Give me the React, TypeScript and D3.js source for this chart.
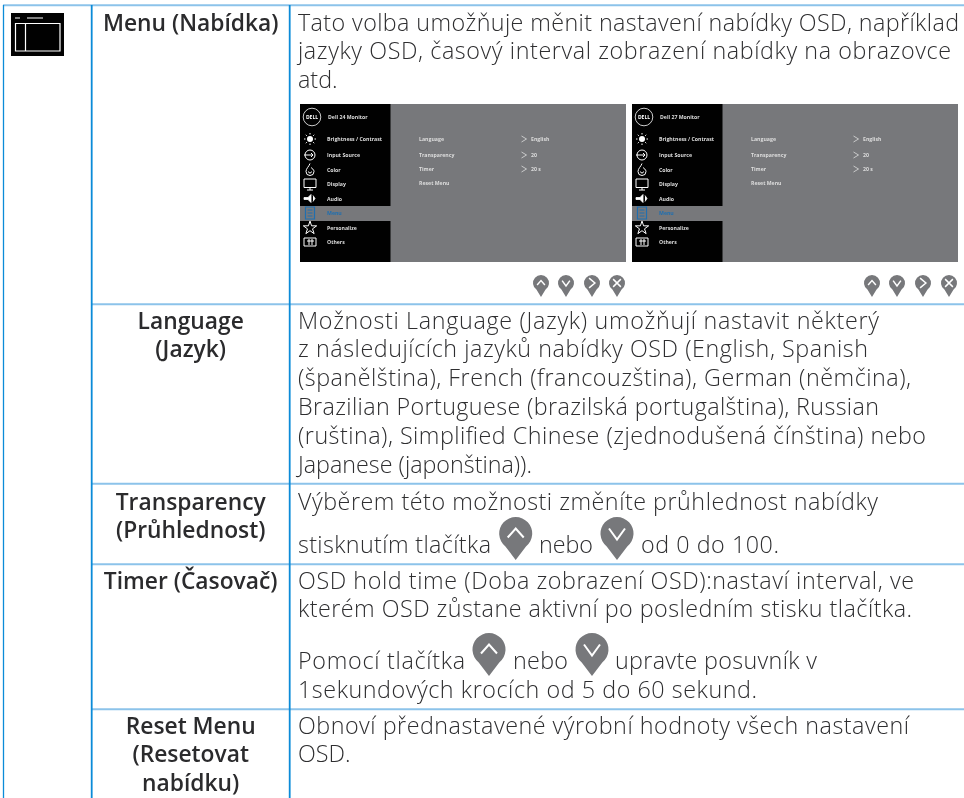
import React from "react";
import * as d3 from "d3";

const WIDTH = 964;
const HEIGHT = 798;
const BODY_FONT = "'Open Sans', sans-serif";
const BLUE = "#0b8bd8";
const LIGHT_BLUE = "#8cc3ea";
const PIN_GREY = "#77787b";

// table contents
const rowNames = ["menu", "language", "transparency", "timer", "reset"];
const labelLines = [
  ["Menu (Nabídka)"],
  ["Language", "(Jazyk)"],
  ["Transparency", "(Průhlednost)"],
  ["Timer (Časovač)"],
  ["Reset Menu", "(Resetovat", "nabídku)"],
];
const bodyLines = [
  [
    "Tato volba umožňuje měnit nastavení nabídky OSD, například",
    "jazyky OSD, časový interval zobrazení nabídky na obrazovce",
    "atd.",
  ],
  [
    "Možnosti Language (Jazyk) umožňují nastavit některý",
    "z následujících jazyků nabídky OSD (English, Spanish",
    "(španělština), French (francouzština), German (němčina),",
    "Brazilian Portuguese (brazilská portugalština), Russian",
    "(ruština), Simplified Chinese (zjednodušená čínština) nebo",
    "Japanese (japonština)).",
  ],
  ["Výběrem této možnosti změníte průhlednost nabídky"],
  [
    "OSD hold time (Doba zobrazení OSD):nastaví interval, ve",
    "kterém OSD zůstane aktivní po posledním stisku tlačítka.",
  ],
  ["Obnoví přednastavené výrobní hodnoty všech nastavení", "OSD."],
];
const transparencyParts = ["stisknutím tlačítka", "nebo", "od 0 do 100."];
const timerParts = ["Pomocí tlačítka", "nebo", "upravte posuvník v"];
const timerLastLine = "1sekundových krocích od 5 do 60 sekund.";

// OSD screenshots
const monitors = ["Dell 24 Monitor", "Dell 27 Monitor"];
const osdItems = [
  "Brightness / Contrast",
  "Input Source",
  "Color",
  "Display",
  "Audio",
  "Menu",
  "Personalize",
  "Others",
];
const osdSettings = ["Language", "Transparency", "Timer", "Reset Menu"];
const osdValues = ["English", "20", "20 s"];
const pinKinds = ["up", "down", "right", "close"];

// layout
const TEXT_X = 298;
const LABEL_X = 190.7;
const LINE = 28.8;
const rowTop = d3.scaleOrdinal<string, number>().domain(rowNames).range([5.3, 304.3, 483.7, 564.3, 709.3]);
const firstBaseline = d3.scaleOrdinal<string, number>().domain(rowNames).range([30.6, 328.6, 509.6, 588.6, 733.6]);
const osdY = d3.scaleLinear().domain([0, 1, 7]).range([139, 155, 242]);
const settingY = d3.scaleLinear().domain([0, 1, 3]).range([139, 155, 183]);
// right ends of the long body lines, the font here runs a little narrower than the original
const bodyLineEnds = [
  [959, 951, 0],
  [879, 868, 911, 879, 926, 0],
  [878],
  [914, 912],
  [909, 0],
];

function pinPath(w: number, h: number) {
  const r = w / 2;
  const a = Math.acos(r / (h - r));
  const p = d3.path();
  p.moveTo(0, h);
  p.arc(0, r, r, Math.PI - a, 2 * Math.PI + a, false);
  p.closePath();
  return p.toString();
}

function Pin({ x, y, w, h, kind }: { x: number; y: number; w: number; h: number; kind: string }) {
  const s = w / 33;
  const marks: Record<string, string> = {
    up: "M-8,4L0,-5L8,4",
    down: "M-8,-5L0,6L8,-5",
    right: "M-6,-10L6,0L-6,10",
    close: "M-8,-8L8,8M8,-8L-8,8",
  };
  return (
    <g transform={`translate(${x},${y})`}>
      <path d={pinPath(w, h)} fill={PIN_GREY} />
      <g transform={`translate(0,${w / 2}) scale(${s})`}>
        <path d={marks[kind]} fill="none" stroke="#fff" strokeWidth={s < 1 ? 3 : 2} />
      </g>
    </g>
  );
}

function OsdIcon({ i, cx, cy, on }: { i: number; cx: number; cy: number; on: boolean }) {
  const stroke = on ? "#1f6fb0" : "#fff";
  const common = { fill: "none", stroke, strokeWidth: 1 };
  let shape: React.ReactNode = null;
  if (i === 0) {
    const rays = d3.range(8).map((k) => (k * Math.PI) / 4);
    shape = (
      <>
        <circle r={3} fill="#fff" />
        {rays.map((a, k) => (
          <line key={k} x1={4.5 * Math.cos(a)} y1={4.5 * Math.sin(a)} x2={6 * Math.cos(a)} y2={6 * Math.sin(a)} {...common} />
        ))}
      </>
    );
  } else if (i === 1) {
    shape = (
      <>
        <circle r={5} {...common} />
        <path d="M-6,0H3M1,-2L3,0L1,2" {...common} />
      </>
    );
  } else if (i === 2) {
    shape = <path d="M0,-6C-1,-3 -4,-1 -4,2A4,4 0 0 0 4,2C4,0 2,-1 1,-2M-1.5,2A1.5,1.5 0 0 0 1.5,2" {...common} />;
  } else if (i === 3) {
    shape = <path d="M-6,-5H6V3.5H-6ZM0,3.5V6M-3,6H3" {...common} />;
  } else if (i === 4) {
    shape = <path d="M-6,-1H-2L1,-4V4L-2,1H-6ZM3,-3L5,0L3,3" fill="#fff" stroke="#fff" strokeWidth={0.8} />;
  } else if (i === 5) {
    shape = <path d="M-4.5,-6H4.5V6H-4.5ZM-2.5,-3H2.5M-2.5,0H2.5M-2.5,3H2.5" {...common} strokeWidth={1.2} />;
  } else if (i === 6) {
    shape = <path d={d3.symbol(d3.symbolStar, 55)() as string} transform="translate(0,0.5)" {...common} />;
  } else {
    shape = <path d="M-6,-4H6V4H-6ZM-1,-3V3M2,-3V3M-3,-1H4" {...common} />;
  }
  return <g transform={`translate(${cx},${cy})`}>{shape}</g>;
}

function OsdPanel({ x, name, pins }: { x: number; name: string; pins: number[] }) {
  const font = { fontFamily: BODY_FONT, fontSize: 5.2, fontWeight: 700 };
  return (
    <g>
      <g style={{ filter: "blur(0.25px)" }}>
        <rect x={x} y={104} width={326} height={158} fill={PIN_GREY} />
        <rect x={x} y={104} width={90.5} height={102} fill="#000" />
        <rect x={x} y={221} width={90.5} height={41} fill="#000" />
        <circle cx={x + 12} cy={117} r={8.8} fill="#000" stroke="#fff" strokeWidth={0.8} />
        <text x={x + 12} y={119} textAnchor="middle" fill="#fff" fontFamily={BODY_FONT} fontSize={5} fontWeight={700}>
          DELL
        </text>
        <text x={x + 28} y={119} fill="#ddd" {...font}>
          {name}
        </text>
        {osdItems.map((item, i) => (
          <g key={item}>
            <OsdIcon i={i} cx={x + 10} cy={osdY(i)} on={item === "Menu"} />
            <text x={x + 27} y={osdY(i) + 2} fill={item === "Menu" ? "#1f6fb0" : "#ddd"} {...font}>
              {item}
            </text>
          </g>
        ))}
        {osdSettings.map((item, i) => (
          <text key={item} x={x + 119} y={settingY(i) + 2} fill="#ddd" {...font}>
            {item}
          </text>
        ))}
        {osdValues.map((item, i) => (
          <g key={item}>
            <path
              d={`M${x + 221.5},${settingY(i) - 3}L${x + 226.5},${settingY(i)}L${x + 221.5},${settingY(i) + 3}`}
              fill="none"
              stroke="#ddd"
              strokeWidth={0.8}
            />
            <text x={x + 231} y={settingY(i) + 2} fill="#ddd" {...font}>
              {item}
            </text>
          </g>
        ))}
      </g>
      {pinKinds.map((kind, i) => (
        <Pin key={kind} x={pins[i]} y={275} w={16} h={22} kind={kind} />
      ))}
    </g>
  );
}

export default function App() {
  const bodyStyle = { fontFamily: BODY_FONT, fontSize: 23.3, fontWeight: 300, fill: "#2e2e30" };
  const labelStyle = {
    fontFamily: BODY_FONT,
    fontSize: 22.8,
    fontWeight: 600,
    fill: "#2b2b2d",
    textAnchor: "middle" as const,
  };
  const fit = (end: number, start: number = TEXT_X) => ({ textLength: end - start, lengthAdjust: "spacing" });
  return (
    <svg width={WIDTH} height={HEIGHT} style={{ position: "absolute", left: 0, top: 0 }}>
      <rect width={WIDTH} height={HEIGHT} fill="#fff" />
      <g opacity={0.999}>
        {/* grid */}
        {rowNames.map((r, i) => (
          <line key={r} x1={i === 0 ? 3 : 92} x2={WIDTH} y1={rowTop(r)} y2={rowTop(r)} stroke={LIGHT_BLUE} strokeWidth={2} />
        ))}
        {[3.5, 91.7, 289.7].map((x, i) => (
          <line key={x} x1={x} x2={x} y1={5} y2={HEIGHT} stroke={BLUE} strokeWidth={i === 0 ? 1.3 : 1.8} />
        ))}

        {/* page icon */}
        <rect x={11} y={13} width={53} height={43} fill="#000" />
        <path d="M15.5,23.5H60V51H15.5ZM25.5,23.5V51" fill="none" stroke="#fff" strokeWidth={1.2} />
        <path d="M15,18H20M27,18H43" fill="none" stroke="#fff" strokeWidth={1.2} />

        {/* labels */}
        {rowNames.map((r, i) =>
          labelLines[i].map((t, k) => (
            <text key={t} x={LABEL_X} y={firstBaseline(r) + k * LINE} {...labelStyle}>
              {t}
            </text>
          ))
        )}

        {/* body text */}
        {rowNames.map((r, i) =>
          bodyLines[i].map((t, k) => (
            <text
              key={t}
              x={TEXT_X}
              y={firstBaseline(r) + k * LINE}
              {...bodyStyle}
              {...(bodyLineEnds[i][k] ? fit(bodyLineEnds[i][k]) : {})}
            >
              {t}
            </text>
          ))
        )}
        <text x={TEXT_X} y={553.4} {...bodyStyle} {...fit(491)}>{transparencyParts[0]}</text>
        <Pin x={515.7} y={517} w={33} h={43} kind="up" />
        <text x={539} y={553.4} {...bodyStyle} {...fit(593, 539)}>{transparencyParts[1]}</text>
        <Pin x={617} y={517} w={33} h={43} kind="down" />
        <text x={641} y={553.4} {...bodyStyle} {...fit(779, 641)}>{transparencyParts[2]}</text>

        <text x={TEXT_X} y={669.4} {...bodyStyle} {...fit(465)}>{timerParts[0]}</text>
        <Pin x={489} y={633} w={33} h={43} kind="up" />
        <text x={513} y={669.4} {...bodyStyle} {...fit(568, 513)}>{timerParts[1]}</text>
        <Pin x={592} y={633} w={33} h={43} kind="down" />
        <text x={615} y={669.4} {...bodyStyle} {...fit(817, 615)}>{timerParts[2]}</text>
        <text x={TEXT_X} y={698.4} {...bodyStyle} {...fit(757)}>{timerLastLine}</text>

        <OsdPanel x={300} name={monitors[0]} pins={[541, 566, 592, 617]} />
        <OsdPanel x={632} name={monitors[1]} pins={[872, 897, 923, 949]} />
      </g>
    </svg>
  );
}
